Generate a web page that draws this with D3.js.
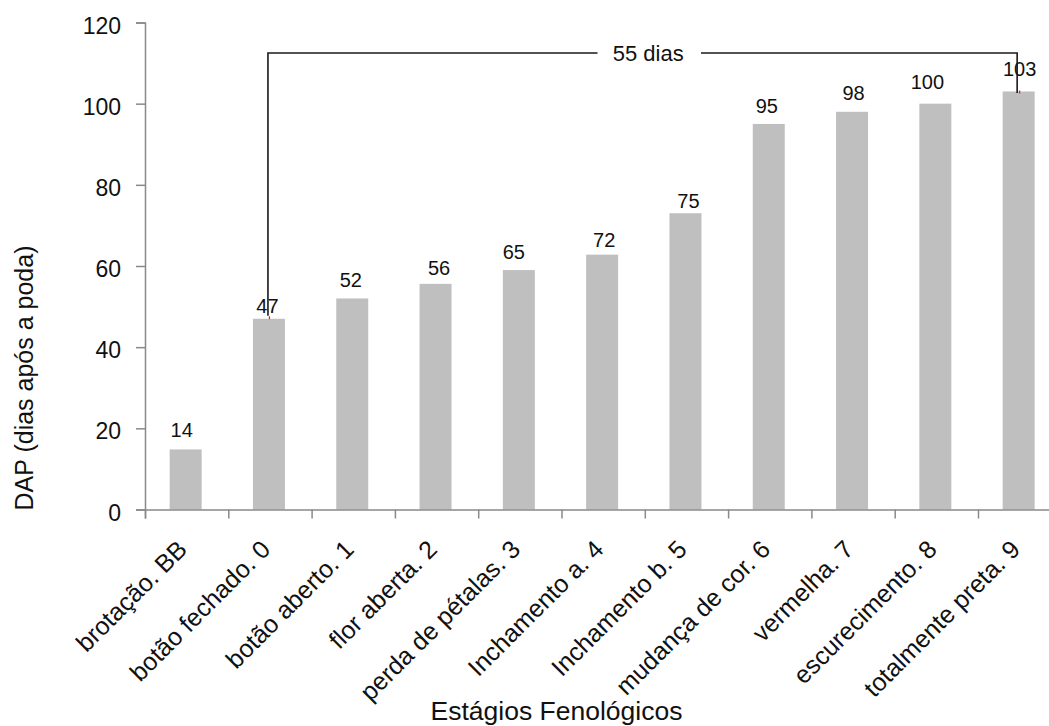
<!DOCTYPE html>
<html>
<head>
<meta charset="utf-8">
<script src="https://cdn.jsdelivr.net/npm/d3@7"></script>
<style>
  html, body { margin: 0; padding: 0; background: #fff; }
  svg { display: block; }
  text { font-family: "Liberation Sans", Arial, sans-serif; fill: #111; }
</style>
</head>
<body>
<div id="chart"></div>
<script>
// ---- data ----
const categories = [
  "brotação. BB", "botão fechado. 0", "botão aberto. 1", "flor aberta. 2",
  "perda de pétalas. 3", "Inchamento a. 4", "Inchamento b. 5",
  "mudança de cor. 6", "vermelha. 7", "escurecimento. 8", "totalmente preta. 9"
];
const barValues = [14.8, 47, 52, 55.6, 59, 62.8, 73, 95, 98, 100, 103];
const labelTexts = ["14", "47", "52", "56", "65", "72", "75", "95", "98", "100", "103"];
const yTicks = [0, 20, 40, 60, 80, 100, 120];
const yTitle = "DAP (dias após a poda)";
const xTitle = "Estágios Fenológicos";
const spanText = "55 dias";
const spanFrom = 1, spanTo = 10;   // category indices linked by the bracket
const spanLevel = 112.5;           // value level of the bracket line

// ---- layout ----
const W = 1049, H = 726;
const plotLeft = 145, plotBottom = 509.5, plotTop = 22.5;
const step = 83.3;
const plotRight = plotLeft + step * categories.length;
// per-label nudges [dx, px above bar top]
const labelNudge = [[-4,12],[-1.5,5.5],[-1.5,11.3],[3.5,9],[-5,11.3],[2,7.4],[3,5.4],[-2,10.7],[1.5,11.3],[-8,14.3],[1,15.7]];

const svg = d3.select("#chart").append("svg").attr("width", W).attr("height", H);

const x = d3.scaleBand().domain(categories).range([plotLeft, plotRight])
  .paddingInner(0.616).paddingOuter(0.308);
const xb = d3.scaleLinear().domain([0, categories.length]).range([plotLeft, plotRight]);
const y = d3.scaleLinear().domain([0, 120]).range([plotBottom, plotTop]);

const axisColor = "#898989";

// bars
svg.append("g").selectAll("rect").data(barValues).join("rect")
  .attr("x", (d, i) => x(categories[i]) - 1)
  .attr("width", x.bandwidth())
  .attr("y", d => y(d))
  .attr("height", d => y(0) - y(d))
  .attr("fill", "#bfbfbf");

// y axis
const yAxis = svg.append("g").attr("transform", `translate(${plotLeft},0)`)
  .call(d3.axisLeft(y).tickValues(yTicks).tickSize(9).tickPadding(15));
yAxis.select(".domain").attr("stroke", axisColor).attr("stroke-width", 1.5);
yAxis.selectAll(".tick line").attr("stroke", axisColor).attr("stroke-width", 1.5);
yAxis.selectAll(".tick text").attr("font-size", 23).attr("fill", "#111")
  .attr("dy", "0.46em").style("font-family", '"Liberation Sans", Arial, sans-serif');

// x axis (boundary ticks)
const xAxis = svg.append("g").attr("transform", `translate(0,${plotBottom})`)
  .call(d3.axisBottom(xb).tickValues(d3.range(categories.length + 1)).tickSize(9).tickFormat(""));
xAxis.select(".domain").attr("stroke", axisColor).attr("stroke-width", 1.5);
xAxis.selectAll(".tick line").attr("stroke", axisColor).attr("stroke-width", 1.5);

// x category labels
svg.append("g").selectAll("text").data(categories).join("text")
  .attr("transform", d => `translate(${x(d) + x.bandwidth() / 2 + 2},551) rotate(-45)`)
  .attr("text-anchor", "end")
  .attr("font-size", 25)
  .text(d => d);

// data labels
svg.append("g").selectAll("text").data(barValues).join("text")
  .attr("x", (d, i) => x(categories[i]) + x.bandwidth() / 2 - 1 + labelNudge[i][0])
  .attr("y", (d, i) => y(d) - labelNudge[i][1])
  .attr("text-anchor", "middle")
  .attr("font-size", 20)
  .text((d, i) => labelTexts[i]);

// bracket annotation
const bx1 = x(categories[spanFrom]) + x.bandwidth() / 2 - 2;
const bx2 = x(categories[spanTo]) + x.bandwidth() / 2 - 2.5;
const by = y(spanLevel);
const gapL = 597.5, gapR = 701;
const br = svg.append("g").attr("fill", "none").attr("stroke", "#1a1a1a").attr("stroke-width", 1.6);
br.append("path").attr("d", `M${bx1},${y(barValues[spanFrom]) - 3}V${by}H${gapL}`);
br.append("path").attr("d", `M${gapR},${by}H${bx2}V${y(barValues[spanTo]) + 1.5}`);
svg.append("text").attr("x", (gapL + gapR) / 2 - 1).attr("y", by + 8)
  .attr("text-anchor", "middle").attr("font-size", 22).text(spanText);
// tiny red end marks
svg.append("g").attr("stroke", "#e02020").attr("stroke-width", 1.2)
  .selectAll("line").data([[bx1 + 1.5, y(barValues[spanFrom]) - 1], [bx2 + 2.5, y(barValues[spanTo]) + 0.5]]).join("line")
  .attr("x1", d => d[0]).attr("x2", d => d[0]).attr("y1", d => d[1] - 1.5).attr("y2", d => d[1] + 1.5);

// axis titles
svg.append("text")
  .attr("transform", `translate(33,378) rotate(-90)`)
  .attr("text-anchor", "middle").attr("font-size", 25).text(yTitle);
svg.append("text").attr("x", 556.5).attr("y", 720)
  .attr("text-anchor", "middle").attr("font-size", 26.5).text(xTitle);
</script>
</body>
</html>
